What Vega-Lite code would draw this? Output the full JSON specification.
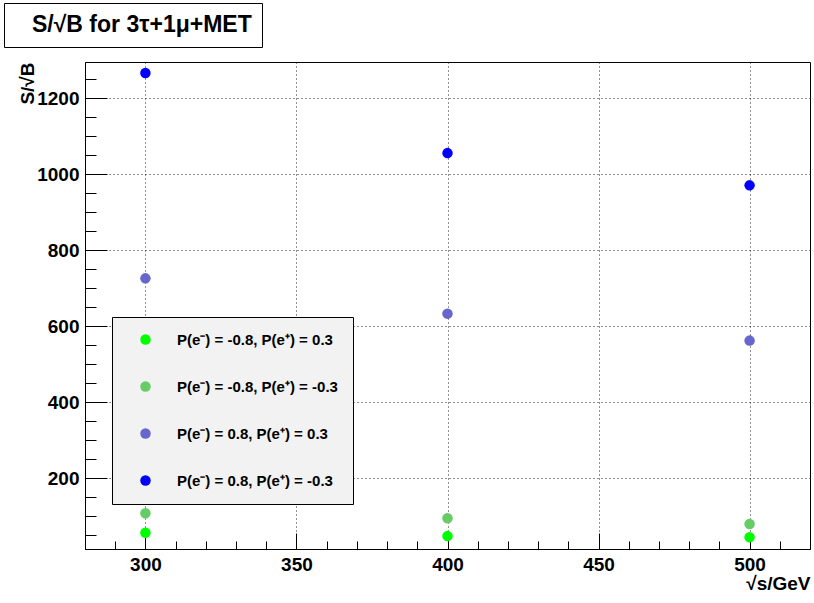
{
  "$schema": "https://vega.github.io/schema/vega-lite/v6.json",
  "width": 725,
  "height": 487,
  "autosize": {"type": "none"},
  "padding": {"left": 85, "top": 62, "right": 4, "bottom": 54},
  "background": "white",
  "data": {
    "values": [
      {"sqrt_s": 300, "sb": 56, "pol": "P(e⁻) = -0.8, P(e⁺) = 0.3"},
      {"sqrt_s": 400, "sb": 47, "pol": "P(e⁻) = -0.8, P(e⁺) = 0.3"},
      {"sqrt_s": 500, "sb": 44, "pol": "P(e⁻) = -0.8, P(e⁺) = 0.3"},
      {"sqrt_s": 300, "sb": 107, "pol": "P(e⁻) = -0.8, P(e⁺) = -0.3"},
      {"sqrt_s": 400, "sb": 94, "pol": "P(e⁻) = -0.8, P(e⁺) = -0.3"},
      {"sqrt_s": 500, "sb": 79, "pol": "P(e⁻) = -0.8, P(e⁺) = -0.3"},
      {"sqrt_s": 300, "sb": 726, "pol": "P(e⁻) = 0.8, P(e⁺) = 0.3"},
      {"sqrt_s": 400, "sb": 633, "pol": "P(e⁻) = 0.8, P(e⁺) = 0.3"},
      {"sqrt_s": 500, "sb": 562, "pol": "P(e⁻) = 0.8, P(e⁺) = 0.3"},
      {"sqrt_s": 300, "sb": 1267, "pol": "P(e⁻) = 0.8, P(e⁺) = -0.3"},
      {"sqrt_s": 400, "sb": 1056, "pol": "P(e⁻) = 0.8, P(e⁺) = -0.3"},
      {"sqrt_s": 500, "sb": 971, "pol": "P(e⁻) = 0.8, P(e⁺) = -0.3"}
    ]
  },
  "mark": {"type": "point", "filled": true, "size": 110, "opacity": 1},
  "encoding": {
    "x": {
      "field": "sqrt_s",
      "type": "quantitative",
      "scale": {"domain": [280, 520], "nice": false, "zero": false},
      "axis": {
        "values": [280, 290, 300, 310, 320, 330, 340, 350, 360, 370, 380, 390, 400, 410, 420, 430, 440, 450, 460, 470, 480, 490, 500, 510, 520],
        "format": "d",
        "labelExpr": "datum.value % 50 === 0 ? datum.label : ''",
        "tickSize": {"condition": {"test": "datum.value % 50 === 0", "value": -16}, "value": -8},
        "gridOpacity": {"condition": {"test": "datum.value % 50 === 0", "value": 1}, "value": 0},
        "title": "√s/GeV",
        "titleAnchor": "end",
        "titleY": 40,
        "titleBaseline": "alphabetic",
        "labelPadding": 22
      }
    },
    "y": {
      "field": "sb",
      "type": "quantitative",
      "scale": {"domain": [13, 1296], "nice": false, "zero": false},
      "axis": {
        "values": [50, 100, 150, 200, 250, 300, 350, 400, 450, 500, 550, 600, 650, 700, 750, 800, 850, 900, 950, 1000, 1050, 1100, 1150, 1200, 1250],
        "format": "d",
        "labelExpr": "datum.value % 200 === 0 ? datum.label : ''",
        "tickSize": {"condition": {"test": "datum.value % 200 === 0", "value": -22}, "value": -11},
        "gridOpacity": {"condition": {"test": "datum.value % 200 === 0", "value": 1}, "value": 0},
        "title": "S/√B",
        "titleAngle": 270,
        "titleAlign": "right",
        "titleBaseline": "middle",
        "titleX": -58,
        "titleY": 0,
        "labelPadding": 28
      }
    },
    "shape": {
      "datum": "S/√B for 3τ+1μ+MET",
      "type": "nominal",
      "scale": {"range": ["circle"]},
      "legend": {
        "title": null,
        "orient": "none",
        "legendX": -81,
        "legendY": -59,
        "fillColor": "white",
        "strokeColor": "black",
        "padding": 10,
        "symbolSize": 0,
        "symbolOpacity": 0,
        "symbolOffset": 0,
        "labelOffset": -5,
        "labelFont": "Liberation Sans",
        "labelFontSize": 23,
        "labelFontWeight": "bold",
        "labelColor": "black",
        "labelLimit": 400
      }
    },
    "color": {
      "field": "pol",
      "type": "nominal",
      "scale": {
        "domain": ["P(e⁻) = -0.8, P(e⁺) = 0.3", "P(e⁻) = -0.8, P(e⁺) = -0.3", "P(e⁻) = 0.8, P(e⁺) = 0.3", "P(e⁻) = 0.8, P(e⁺) = -0.3"],
        "range": ["#00ff00", "#66cc66", "#6666cc", "#0000ff"]
      },
      "legend": {
        "title": null,
        "orient": "none",
        "legendX": 27,
        "legendY": 255,
        "fillColor": "#f2f2f2",
        "strokeColor": "black",
        "padding": 15,
        "symbolOffset": 11,
        "labelOffset": 24,
        "rowPadding": 31,
        "labelFont": "Liberation Sans",
        "labelFontSize": 15,
        "labelFontWeight": "bold",
        "labelColor": "black",
        "labelLimit": 400,
        "symbolSize": 110,
        "symbolType": "circle",
        "symbolStrokeWidth": 0,
        "symbolOpacity": 1
      }
    }
  },
  "config": {
    "view": {"stroke": "black", "strokeWidth": 1},
    "axis": {
      "grid": true,
      "gridDash": [1, 3],
      "gridColor": "#222222",
      "gridWidth": 1,
      "domainColor": "black",
      "tickColor": "black",
      "tickWidth": 1,
      "labelFont": "Liberation Sans",
      "labelFontSize": 19,
      "labelFontWeight": "bold",
      "labelColor": "black",
      "labelFlush": false,
      "labelOverlap": false,
      "titleFont": "Liberation Sans",
      "titleFontSize": 19,
      "titleFontWeight": "bold",
      "titleColor": "black"
    }
  }
}
